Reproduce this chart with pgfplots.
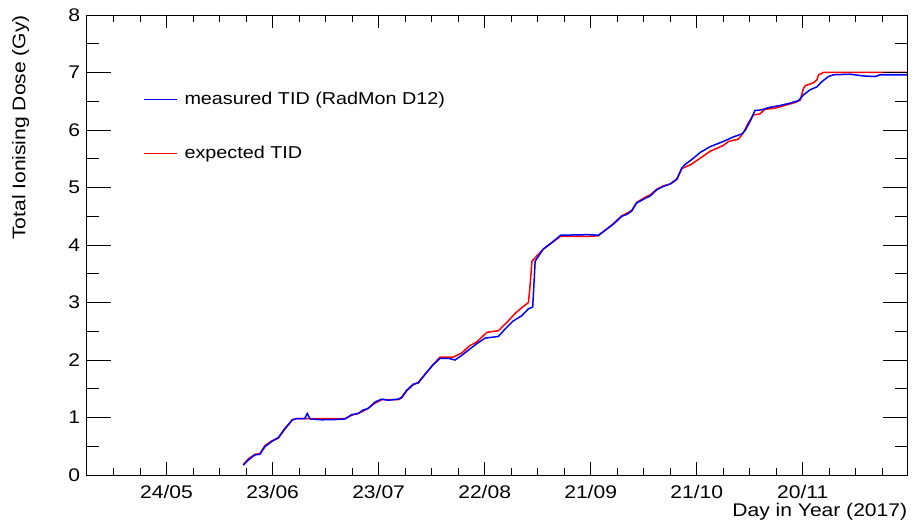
\documentclass[border=0pt]{standalone}
\usepackage{fontspec}
\setmainfont{Liberation Sans}[FakeStretch=1.15]
\usepackage{pgfplots}
\pgfplotsset{compat=1.18}

\pgfplotstableread{
x y
165.7 0.18
167.1 0.28
169.0 0.36
170.4 0.37
171.8 0.51
173.7 0.59
175.6 0.64
177.5 0.80
179.6 0.96
180.8 0.98
187.9 0.98
194.5 0.98
196.4 1.04
198.2 1.07
199.6 1.11
201.0 1.16
203.0 1.25
204.9 1.31
209.6 1.31
210.5 1.34
211.9 1.46
213.8 1.57
215.2 1.61
217.6 1.78
219.5 1.93
221.4 2.05
225.1 2.05
227.5 2.12
229.8 2.25
231.7 2.31
234.6 2.48
237.9 2.51
240.7 2.68
242.6 2.81
244.5 2.91
246.4 3.00
246.8 3.26
247.4 3.72
250.6 3.93
253.0 4.04
255.5 4.15
263.3 4.15
266.2 4.16
267.1 4.21
270.4 4.37
272.8 4.51
274.2 4.55
275.6 4.60
277.0 4.74
279.4 4.83
280.8 4.87
282.7 4.97
284.6 5.03
286.5 5.06
288.4 5.14
289.8 5.33
292.4 5.40
295.0 5.51
297.8 5.63
301.5 5.73
303.0 5.80
305.8 5.84
307.2 5.95
308.6 6.12
310.0 6.26
311.9 6.28
313.3 6.36
316.2 6.38
318.5 6.42
321.9 6.48
323.3 6.52
324.2 6.72
324.7 6.77
327.0 6.82
328.0 6.87
328.5 6.96
329.9 7.00
353.5 7.00
}\expected

\pgfplotstableread{
x y
165.7 0.17
167.1 0.26
169.0 0.35
170.4 0.36
171.8 0.49
173.7 0.58
175.6 0.65
177.5 0.81
179.6 0.96
180.8 0.98
183.1 0.98
183.8 1.07
184.6 0.975
187.9 0.96
191.6 0.965
194.5 0.975
196.4 1.05
198.2 1.07
199.6 1.13
201.0 1.155
203.0 1.27
204.9 1.32
206.7 1.30
209.6 1.32
210.5 1.35
211.9 1.47
213.8 1.58
215.2 1.60
217.6 1.79
219.5 1.92
221.4 2.03
223.7 2.03
225.6 2.00
227.5 2.08
229.8 2.19
231.7 2.28
234.1 2.38
237.9 2.41
239.8 2.54
242.1 2.68
244.5 2.77
246.4 2.89
247.6 2.92
248.3 3.72
250.6 3.93
253.0 4.04
255.5 4.17
263.3 4.18
266.2 4.17
267.1 4.21
270.4 4.36
272.8 4.50
274.2 4.53
275.6 4.59
277.0 4.73
279.4 4.81
280.8 4.85
282.7 4.96
284.6 5.02
286.5 5.06
288.4 5.15
289.8 5.34
290.7 5.40
293.1 5.51
295.0 5.61
297.8 5.71
301.5 5.80
304.4 5.88
306.7 5.93
307.7 5.99
309.1 6.15
310.5 6.34
312.4 6.35
314.3 6.39
317.1 6.42
320.0 6.46
322.8 6.51
324.2 6.61
326.1 6.70
328.0 6.75
329.4 6.84
331.3 6.93
332.7 6.96
337.4 6.97
341.2 6.94
344.5 6.93
345.9 6.96
353.5 6.96
}\measured

\begin{document}
\begin{tikzpicture}
\pgfplotsset{
  common/.style={
    scale only axis, width=820.6pt, height=460pt,
    xmin=121.4, xmax=353.6, ymin=0, ymax=8,
    tick align=inside,
    axis line style={line width=0.9pt},
    tick style={black, line width=0.9pt},
    /pgf/number format/assume math mode=true,
  }
}
\begin{axis}[common,
  xtick={144,174,204,234,264,294,324},
  xticklabels={24/05,23/06,23/07,22/08,21/09,21/10,20/11},
  minor xtick={129,136.5,151.5,159,166.5,181.5,189,196.5,211.5,219,226.5,241.5,249,256.5,271.5,279,286.5,301.5,309,316.5,331.5,339,346.5},
  xtick pos=both, xticklabel pos=lower,
  ytick=\empty,
  major tick length=13pt, minor tick length=7pt,
  xticklabel style={font=\fontsize{18.3}{20}\selectfont, inner sep=0pt, anchor=north, yshift=-10pt},
  xlabel={Day in Year (2017)},
  xlabel style={at={(axis description cs:1,0)}, anchor=north east, inner sep=0pt, yshift=-28pt, font=\fontsize{18.3}{20}\selectfont},
  legend style={draw=none, fill=none, at={(rel axis cs:0.069,0.832)}, anchor=north west,
    inner sep=0pt, font=\fontsize{17.2}{20}\selectfont, row sep=40pt, column sep=0pt,
    nodes={inner sep=0pt}},
  legend cell align=left,
  legend image code/.code={},
]
\addplot[red, line width=1.5pt, forget plot] table[x=x,y=y] {\expected};
\addplot[blue, line width=1.5pt, forget plot] table[x=x,y=y] {\measured};
\addlegendimage{blue}
\addlegendentry{\textcolor{blue}{\rule[4.5pt]{33pt}{1.4pt}}\hspace{8pt}measured TID (RadMon D12)}
\addlegendimage{red}
\addlegendentry{\textcolor{red}{\rule[4.5pt]{33pt}{1.4pt}}\hspace{8pt}expected TID}
\end{axis}
\begin{axis}[common,
  xtick=\empty,
  ytick={0,1,2,3,4,5,6,7,8},
  minor ytick={0.5,1.5,2.5,3.5,4.5,5.5,6.5,7.5},
  ytick pos=both, yticklabel pos=left,
  major tick length=24pt, minor tick length=12pt,
  yticklabel style={font=\fontsize{18.3}{20}\selectfont, inner sep=0pt, anchor=east, xshift=-6.5pt},
  ylabel={Total Ionising Dose (Gy)},
  ylabel style={at={(axis description cs:-0.091,1)}, anchor=north east, inner sep=0pt, font=\fontsize{18.3}{20}\selectfont},
]
\end{axis}
\pgfresetboundingbox
\useasboundingbox ([xshift=-86.7pt,yshift=-52pt]current axis.south west) rectangle ([xshift=4.7pt,yshift=15pt]current axis.north east);
\end{tikzpicture}
\end{document}
